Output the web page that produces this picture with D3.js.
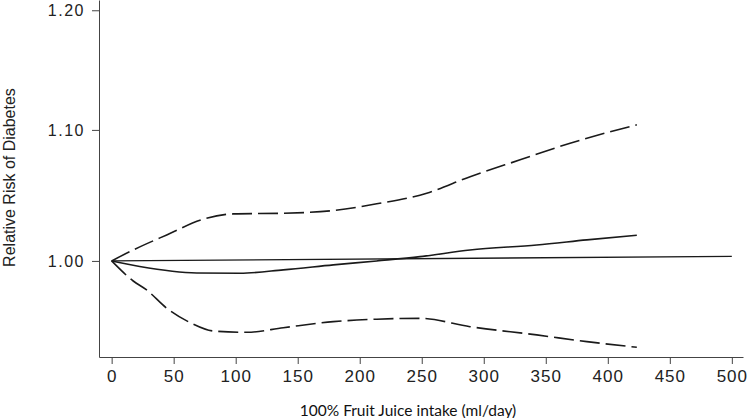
<!DOCTYPE html>
<html>
<head>
<meta charset="utf-8">
<script src="https://cdn.jsdelivr.net/npm/d3@7"></script>
<style>
  html, body { margin: 0; padding: 0; background: #fff; }
  svg { display: block; }
</style>
</head>
<body>
<svg id="chart" width="749" height="418"></svg>
<script>
// ---- Data ----
const centralX = [0, 22.6, 68.5, 103.5, 138.4, 178.7, 213.7, 248.6, 288.9, 342.7, 383.1, 423.4];
const centralRR = [1.000, 0.9960, 0.9913, 0.9911, 0.9935, 0.9971, 1.000, 1.0031, 1.0080, 1.0117, 1.0154, 1.0189];
const upperX = [0, 17.4, 44.4, 73.9, 98.1, 138.4, 178.7, 213.7, 254.0, 289.0, 329.3, 369.6, 423.4];
const upperRR = [1.000, 1.0080, 1.0191, 1.0308, 1.0348, 1.0353, 1.0373, 1.0424, 1.0505, 1.0632, 1.0763, 1.0894, 1.1041];
const lowerX = [0, 17.4, 28.2, 44.4, 64.5, 81.9, 108.9, 138.4, 178.7, 213.7, 248.6, 288.9, 342.7, 383.1, 423.4];
const lowerRR = [1.000, 0.9855, 0.9791, 0.9662, 0.9556, 0.9503, 0.9494, 0.9526, 0.9568, 0.9585, 0.9591, 0.9533, 0.9476, 0.9430, 0.9391];
const refX = [0, 500];
const refRR = [1.000, 1.0033];
const xTicks = [0, 50, 100, 150, 200, 250, 300, 350, 400, 450, 500];
const yTicks = [1.00, 1.10, 1.20];
const xTitle = "100% Fruit Juice intake (ml/day)";
const yTitle = "Relative Risk of Diabetes";

// ---- Layout ----
const svg = d3.select("#chart");
const x = d3.scaleLinear().domain([-10.2, 509]).range([99, 743]);
const y = d3.scaleLog().domain([0.9325, 1.209]).range([357, 0]);

const axisColor = "#444";
const lineColor = "#1a1a1a";

// Axes
const xAxis = svg.append("g")
  .attr("transform", "translate(0,357)")
  .call(d3.axisBottom(x).tickValues(xTicks).tickSize(7).tickPadding(6).tickSizeOuter(0).tickFormat(d3.format("d")));
xAxis.select(".domain").attr("stroke", axisColor);
xAxis.selectAll(".tick line").attr("stroke", axisColor);
xAxis.selectAll("text")
  .attr("fill", "#222")
  .style("font-family", "'Liberation Sans', Arial, sans-serif")
  .style("font-size", "17px")
  .style("letter-spacing", "1px");

const yAxis = svg.append("g")
  .attr("transform", "translate(99,0)")
  .call(d3.axisLeft(y).tickValues(yTicks).tickSize(7).tickPadding(7).tickSizeOuter(0).tickFormat(d3.format(".2f")));
yAxis.select(".domain").attr("stroke", axisColor);
yAxis.selectAll(".tick line").attr("stroke", axisColor);
yAxis.selectAll("text")
  .attr("fill", "#222")
  .style("font-family", "'Liberation Sans', Arial, sans-serif")
  .style("font-size", "16px")
  .style("letter-spacing", "1.5px");

// Titles
svg.append("text")
  .attr("x", 408).attr("y", 416)
  .attr("text-anchor", "middle")
  .style("font-family", "Lato, 'Open Sans', sans-serif")
  .style("font-size", "15.5px")
  .attr("fill", "#111")
  .text(xTitle);

svg.append("text")
  .attr("transform", "translate(15,177.5) rotate(-90)")
  .attr("text-anchor", "middle")
  .style("font-family", "'Liberation Sans', Arial, sans-serif")
  .style("font-size", "16px")
  .attr("fill", "#222")
  .text(yTitle);

// Lines
function series(xs, vals) {
  return xs.map((d, i) => ({ x: d, y: vals[i] }));
}
const line = d3.line().x(d => x(d.x)).y(d => y(d.y)).curve(d3.curveMonotoneX);

svg.append("path")
  .datum(series(refX, refRR))
  .attr("fill", "none").attr("stroke", lineColor).attr("stroke-width", 1.4)
  .attr("d", d3.line().x(d => x(d.x)).y(d => y(d.y)));

svg.append("path")
  .datum(series(centralX, centralRR))
  .attr("fill", "none").attr("stroke", lineColor).attr("stroke-width", 1.6)
  .attr("d", line);

[[upperX, upperRR], [lowerX, lowerRR]].forEach(([xs, v]) => {
  svg.append("path")
    .datum(series(xs, v))
    .attr("fill", "none").attr("stroke", lineColor).attr("stroke-width", 1.6)
    .attr("stroke-dasharray", "20,6")
    .attr("d", line);
});
</script>
</body>
</html>
